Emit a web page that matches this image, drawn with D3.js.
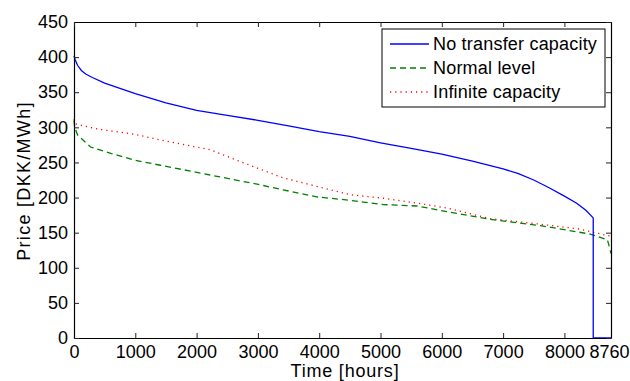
<!DOCTYPE html>
<html>
<head>
<meta charset="utf-8">
<script src="https://cdn.jsdelivr.net/npm/d3@7"></script>
<style>
  body { margin: 0; background: #fff; }
  text { font-family: "Liberation Sans", Arial, Helvetica, sans-serif; }
</style>
</head>
<body>
<div id="chart"></div>
<script>
// duration curves, price in DKK/MWh vs sorted hour
const noTransferHours = [0, 20, 60, 120, 190, 300, 500, 1000, 1500, 2000, 2500, 3000, 3500, 4000, 4500, 5000, 5500, 6000, 6500, 7000, 7250, 7500, 7750, 8000, 8200, 8350, 8470, 8470, 8760];
const noTransferPrice = [402, 396, 388, 381, 376, 371, 363, 348, 335, 324, 317, 310, 302, 294, 287, 278, 270, 262, 252, 241, 234, 225, 214, 202, 192, 182, 171, 0, 0];

const normalHours = [0, 10, 60, 270, 600, 1000, 1410, 2230, 2990, 3410, 3960, 4510, 5050, 5600, 6140, 6790, 7610, 8420, 8700, 8740, 8760];
const normalPrice = [310, 300, 289, 272, 263, 253, 246, 232, 219, 211, 201, 196, 190, 188, 179, 169, 160, 148, 140, 128, 120];

const infiniteHours = [0, 30, 150, 430, 1000, 1410, 2230, 2600, 2990, 3410, 3960, 4510, 5050, 5600, 6090, 6790, 7610, 8260, 8640, 8760];
const infinitePrice = [312, 305, 302, 297, 290, 282, 268, 255, 242, 228, 216, 204, 199, 192, 185, 170, 162, 155, 147, 145];

const xTicks = [0, 1000, 2000, 3000, 4000, 5000, 6000, 7000, 8000, 8760];
const yTicks = [0, 50, 100, 150, 200, 250, 300, 350, 400, 450];

const seriesNames = ['No transfer capacity', 'Normal level', 'Infinite capacity'];

const width = 630, height = 381;
const margin = {top: 22, right: 19, bottom: 43, left: 74};

const svg = d3.select('#chart').append('svg')
  .attr('width', width)
  .attr('height', height);

const x = d3.scaleLinear().domain([0, 8760]).range([margin.left, width - margin.right]);
const y = d3.scaleLinear().domain([0, 450]).range([height - margin.bottom, margin.top]);

const series = [
  {name: seriesNames[0], hours: noTransferHours, price: noTransferPrice, color: '#0000ff', dash: null, w: 1.3},
  {name: seriesNames[1], hours: normalHours, price: normalPrice, color: '#008000', dash: '6,4', w: 1.3},
  {name: seriesNames[2], hours: infiniteHours, price: infinitePrice, color: '#ff0000', dash: '1.2,4', w: 1.3}
];

const line = d3.line()
  .x(d => x(d[0]))
  .y(d => y(d[1]));

// curves
series.slice().reverse().forEach(s => {
  svg.append('path')
    .datum(s.hours.map((h, i) => [h, s.price[i]]))
    .attr('d', line)
    .attr('fill', 'none')
    .attr('stroke', s.color)
    .attr('stroke-width', s.w)
    .attr('stroke-dasharray', s.dash);
});

// axes, ticks on all four sides pointing inward
const tickLen = 5;
const xAxis = d3.axisBottom(x).tickValues(xTicks).tickFormat(d3.format('d'))
  .tickSizeInner(-tickLen).tickSizeOuter(0).tickPadding(7);
const yAxis = d3.axisLeft(y).tickValues(yTicks).tickFormat(d3.format('d'))
  .tickSizeInner(-tickLen).tickSizeOuter(0).tickPadding(6);

const gx = svg.append('g')
  .attr('transform', `translate(0,${height - margin.bottom})`)
  .call(xAxis);
const gy = svg.append('g')
  .attr('transform', `translate(${margin.left},0)`)
  .call(yAxis);
svg.append('g')
  .attr('transform', `translate(0,${margin.top})`)
  .call(d3.axisTop(x).tickValues(xTicks).tickSizeInner(-tickLen).tickSizeOuter(0).tickFormat(''));
svg.append('g')
  .attr('transform', `translate(${width - margin.right},0)`)
  .call(d3.axisRight(y).tickValues(yTicks).tickSizeInner(-tickLen).tickSizeOuter(0).tickFormat(''));

svg.selectAll('.domain').attr('stroke', '#000').attr('stroke-width', 1.2);
svg.selectAll('.tick line').attr('stroke', '#222');
svg.selectAll('.tick text')
  .attr('fill', '#000')
  .style('font-size', '18px')
  .style('font-family', '"Liberation Sans", Arial, sans-serif');
// last label sits against the page edge
gx.selectAll('.tick text').filter(d => d === 8760).attr('dx', -2);

// axis titles
svg.append('text')
  .attr('x', 345)
  .attr('y', 377)
  .attr('text-anchor', 'middle')
  .style('font-size', '18px')
  .style('letter-spacing', '0.8px')
  .text('Time [hours]');

svg.append('text')
  .attr('transform', `translate(30,181) rotate(-90)`)
  .attr('text-anchor', 'middle')
  .style('font-size', '18px')
  .style('letter-spacing', '1.3px')
  .text('Price [DKK/MWh]');

// legend
const lg = svg.append('g').attr('transform', 'translate(382,29)');
lg.append('rect')
  .attr('width', 223)
  .attr('height', 78)
  .attr('fill', '#fff')
  .attr('stroke', '#000')
  .attr('stroke-width', 1);

series.forEach((s, i) => {
  const row = lg.append('g').attr('transform', `translate(0,${15 + i * 24})`);
  row.append('line')
    .attr('x1', 8).attr('x2', 47)
    .attr('y1', 0).attr('y2', 0)
    .attr('stroke', s.color)
    .attr('stroke-width', s.w)
    .attr('stroke-dasharray', s.dash);
  row.append('text')
    .attr('x', 51)
    .attr('y', 0)
    .attr('dy', '0.35em')
    .style('font-size', '18px')
    .style('letter-spacing', '0.2px')
    .text(s.name);
});
</script>
</body>
</html>
